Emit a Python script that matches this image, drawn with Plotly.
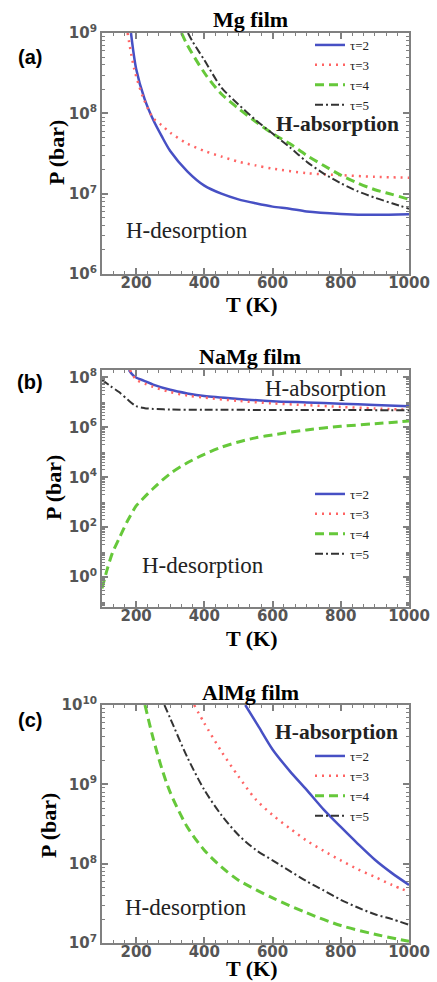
import plotly.graph_objects as go

# ---------------- data ----------------
# Panel (a) Mg film : T (K) and P (bar)
T_a_tau2 = [185, 200, 225, 250, 275, 300, 350, 400, 450, 500, 550, 600, 650, 700, 800, 900, 1000]
P_a_tau2 = [1.0e9, 3.6e8, 1.5e8, 8.3e7, 5.2e7, 3.4e7, 1.9e7, 1.26e7, 1.0e7, 8.5e6, 7.6e6, 6.9e6, 6.5e6, 6.0e6, 5.6e6, 5.45e6, 5.55e6]
T_a_tau3 = [175, 195, 220, 250, 275, 300, 350, 400, 450, 500, 550, 600, 700, 800, 900, 1000]
P_a_tau3 = [1.0e9, 3.5e8, 1.6e8, 8.7e7, 7.1e7, 5.75e7, 4.2e7, 3.4e7, 2.9e7, 2.5e7, 2.25e7, 2.05e7, 1.8e7, 1.7e7, 1.62e7, 1.58e7]
T_a_tau4 = [333, 350, 400, 450, 500, 550, 600, 650, 700, 750, 800, 850, 900, 950, 1000]
P_a_tau4 = [1.0e9, 7.1e8, 3.2e8, 1.74e8, 1.15e8, 7.9e7, 5.6e7, 4.2e7, 3.0e7, 2.24e7, 1.7e7, 1.35e7, 1.12e7, 9.8e6, 8.5e6]
T_a_tau5 = [352, 365, 400, 450, 500, 550, 600, 650, 700, 750, 800, 850, 900, 950, 1000]
P_a_tau5 = [1.0e9, 7.9e8, 4.6e8, 2.1e8, 1.29e8, 8.3e7, 5.6e7, 3.8e7, 2.5e7, 1.78e7, 1.35e7, 1.07e7, 8.9e6, 7.6e6, 6.5e6]

# Panel (b) NaMg film
T_b_tau2 = [179, 190, 200, 225, 250, 300, 350, 400, 500, 600, 700, 800, 900, 1000]
P_b_tau2 = [2.0e8, 1.26e8, 1.0e8, 7.2e7, 5.2e7, 3.2e7, 2.3e7, 1.8e7, 1.38e7, 1.12e7, 1.0e7, 8.9e6, 7.9e6, 7.1e6]
T_b_tau3 = [182, 200, 225, 250, 300, 350, 400, 500, 600, 700, 800, 900, 1000]
P_b_tau3 = [2.0e8, 8.3e7, 5.75e7, 4.2e7, 2.6e7, 1.9e7, 1.55e7, 1.15e7, 9.1e6, 7.8e6, 6.6e6, 5.75e6, 5.1e6]
T_b_tau4 = [100, 115, 130, 150, 175, 200, 210, 250, 300, 350, 400, 450, 500, 550, 600, 700, 800, 900, 1000]
P_b_tau4 = [0.35, 2.0, 8.9, 35, 180, 710, 1000, 3550, 1.4e4, 3.8e4, 8.3e4, 1.6e5, 2.6e5, 3.8e5, 5.0e5, 7.9e5, 1.1e6, 1.4e6, 1.8e6]
T_b_tau5 = [100, 125, 150, 175, 200, 225, 250, 300, 400, 600, 800, 1000]
P_b_tau5 = [8.0e7, 4.5e7, 2.6e7, 1.3e7, 7.1e6, 5.9e6, 5.5e6, 5.2e6, 5.1e6, 5.0e6, 5.0e6, 4.8e6]

# Panel (c) AlMg film
T_c_tau2 = [520, 560, 600, 650, 700, 750, 800, 850, 900, 950, 1000]
P_c_tau2 = [1.0e10, 5.25e9, 2.75e9, 1.48e9, 8.5e8, 4.8e8, 2.9e8, 1.78e8, 1.12e8, 7.6e7, 5.4e7]
T_c_tau3 = [370, 400, 450, 500, 550, 600, 650, 700, 750, 800, 850, 900, 950, 1000]
P_c_tau3 = [1.0e10, 5.9e9, 2.6e9, 1.26e9, 6.5e8, 4.1e8, 2.8e8, 1.95e8, 1.45e8, 1.1e8, 8.5e7, 6.8e7, 5.4e7, 4.4e7]
T_c_tau4 = [226, 250, 275, 300, 350, 400, 450, 500, 600, 700, 800, 900, 1000]
P_c_tau4 = [1.0e10, 3.8e9, 1.6e9, 7.9e8, 2.9e8, 1.48e8, 9.1e7, 6.2e7, 3.7e7, 2.4e7, 1.66e7, 1.29e7, 1.05e7]
T_c_tau5 = [283, 300, 350, 400, 450, 500, 550, 600, 650, 700, 750, 800, 850, 900, 950, 1000]
P_c_tau5 = [1.0e10, 6.8e9, 2.2e9, 8.5e8, 4.1e8, 2.3e8, 1.5e8, 1.1e8, 8.1e7, 6.0e7, 4.6e7, 3.5e7, 2.8e7, 2.3e7, 2.0e7, 1.7e7]

series_names = ["τ=2", "τ=3", "τ=4", "τ=5"]
panel_titles = ["Mg film", "NaMg film", "AlMg film"]
panel_labels = ["(a)", "(b)", "(c)"]
x_ticks = [200, 400, 600, 800, 1000]
x_title = "T (K)"
y_title = "P (bar)"

# ---------------- styles ----------------
W, H = 437, 982
SERIF = "Liberation Serif"
SANS = "DejaVu Sans"
FRAME = "#808080"
TICKFONT = dict(family=SANS, size=15, color="#555555", weight="bold")
line_styles = [
    dict(color="#4750c4", width=2.5, dash="solid", shape="spline", smoothing=0.8),
    dict(color="#ff6464", width=2.5, dash="2px,5px", shape="spline", smoothing=0.8),
    dict(color="#66c83a", width=3, dash="9px,5px", shape="spline", smoothing=0.8),
    dict(color="#333333", width=2, dash="8px,3px,2px,3px", shape="spline", smoothing=0.8),
]

fig = go.Figure()

panels = [
    ([T_a_tau2, T_a_tau3, T_a_tau4, T_a_tau5], [P_a_tau2, P_a_tau3, P_a_tau4, P_a_tau5]),
    ([T_b_tau2, T_b_tau3, T_b_tau4, T_b_tau5], [P_b_tau2, P_b_tau3, P_b_tau4, P_b_tau5]),
    ([T_c_tau2, T_c_tau3, T_c_tau4, T_c_tau5], [P_c_tau2, P_c_tau3, P_c_tau4, P_c_tau5]),
]
legend_ids = ["legend", "legend2", "legend3"]

for i, (Ts, Ps) in enumerate(panels):
    sfx = "" if i == 0 else str(i + 1)
    for j in range(4):
        fig.add_trace(go.Scatter(
            x=Ts[j], y=Ps[j], mode="lines",
            name=series_names[j],
            line=line_styles[j],
            xaxis="x" + sfx, yaxis="y" + sfx,
            legend=legend_ids[i], showlegend=True,
            hoverinfo="skip",
        ))

# ---------------- layout ----------------
x_dom = [102 / W, 409 / W]
boxes = [(33, 274), (370, 607), (705, 943)]  # (top px, bottom px)
y_ranges = [[6, 9], [-1.2, 8.3], [7, 10]]
y_major_exp = [[6, 7, 8, 9], [0, 2, 4, 6, 8], [7, 8, 9, 10]]


def minor_vals(lo, hi, include_odd_decades=False):
    vals = []
    for k in range(lo, hi + 1):
        for m in range(1, 10):
            if m == 1 and not include_odd_decades:
                continue
            vals.append(m * 10.0 ** k)
    return vals


def px(xp):
    return xp / W


def py(yp):
    return 1 - yp / H


layout = dict(
    width=W, height=H,
    margin=dict(l=0, r=0, t=0, b=0, autoexpand=False),
    paper_bgcolor="white", plot_bgcolor="white",
    showlegend=True,
    annotations=[],
)

axis_common = dict(
    showline=True, linecolor=FRAME, linewidth=2, mirror="allticks",
    ticks="inside", ticklen=6, tickwidth=1.5, tickcolor=FRAME,
    showgrid=False, zeroline=False, tickfont=TICKFONT, automargin=False,
)

title_font = dict(family=SERIF, size=22, color="black", weight="bold")
x_title_pos = [(252, 304), (252, 638), (252, 968)]
y_title_pos = [(57, 153), (53, 488), (48, 826)]
label_pos = [(30, 57), (30, 382), (30, 720)]

for i in range(3):
    sfx = "" if i == 0 else str(i + 1)
    top, bot = boxes[i]
    layout["xaxis" + sfx] = dict(
        axis_common, domain=x_dom, anchor="y" + sfx, range=[100, 1000],
        tickmode="array", tickvals=x_ticks, ticklabelstandoff=-6,
        minor=dict(ticks="inside", ticklen=3, tickcolor=FRAME, tickwidth=1,
                   tickmode="linear", tick0=100, dtick=200 / 6),
    )
    exps = y_major_exp[i]
    majors = [10.0 ** e for e in exps]
    lo, hi = int(y_ranges[i][0]) - 1, int(y_ranges[i][1]) + 1
    layout["yaxis" + sfx] = dict(
        axis_common, domain=[1 - bot / H, 1 - top / H], anchor="x" + sfx,
        type="log", range=y_ranges[i],
        tickmode="array", tickvals=majors,
        ticktext=["10<sup>%d</sup>" % e for e in exps],
        minor=dict(ticks="inside", ticklen=3, tickcolor=FRAME, tickwidth=1,
                   tickmode="array",
                   tickvals=[v for v in minor_vals(lo, hi, include_odd_decades=(i == 1))
                             if v not in majors]),
    )
    # axis titles
    layout["annotations"].append(dict(
        text=x_title, xref="paper", yref="paper", x=px(x_title_pos[i][0]), y=py(x_title_pos[i][1]),
        xanchor="center", yanchor="middle", showarrow=False, font=title_font))
    layout["annotations"].append(dict(
        text=y_title, xref="paper", yref="paper", x=px(y_title_pos[i][0]), y=py(y_title_pos[i][1]),
        xanchor="center", yanchor="middle", showarrow=False, textangle=-90, font=title_font))
    # panel title and label
    layout["annotations"].append(dict(
        text=panel_titles[i], xref="paper", yref="paper",
        x=px(250), y=py(top - 13), xanchor="center", yanchor="middle",
        showarrow=False, font=title_font))
    layout["annotations"].append(dict(
        text=panel_labels[i], xref="paper", yref="paper",
        x=px(label_pos[i][0]), y=py(label_pos[i][1]), xanchor="center", yanchor="middle",
        showarrow=False, font=dict(family="Liberation Sans", size=20, color="black", weight="bold")))

absorb_pos = [(337, 124, "bold"), (326, 388, "normal"), (336, 732, "bold")]
desorb_pos = [(187, 230), (203, 565), (186, 907)]
for i in range(3):
    ax_, ay_, w_ = absorb_pos[i]
    layout["annotations"].append(dict(
        text="H-absorption", xref="paper", yref="paper",
        x=px(ax_), y=py(ay_), xanchor="center", yanchor="middle", showarrow=False,
        font=dict(family=SERIF, size=21.5 if w_ == "bold" else 23, color="#222222", weight=w_)))
    dx_, dy_ = desorb_pos[i]
    layout["annotations"].append(dict(
        text="H-desorption", xref="paper", yref="paper",
        x=px(dx_), y=py(dy_), xanchor="center", yanchor="middle", showarrow=False,
        font=dict(family=SERIF, size=23, color="#222222")))

legend_centers = [75, 524, 786]
for i in range(3):
    layout[legend_ids[i]] = dict(
        x=px(310), y=py(legend_centers[i]), xanchor="left", yanchor="middle",
        bgcolor="rgba(0,0,0,0)", borderwidth=0, itemwidth=30, tracegroupgap=0,
        font=dict(family=SERIF, size=13, color="#222222"),
    )

fig.update_layout(**layout)
fig.write_html("out.html", config={"displayModeBar": False},
               post_script="document.body.style.margin='0px';")
